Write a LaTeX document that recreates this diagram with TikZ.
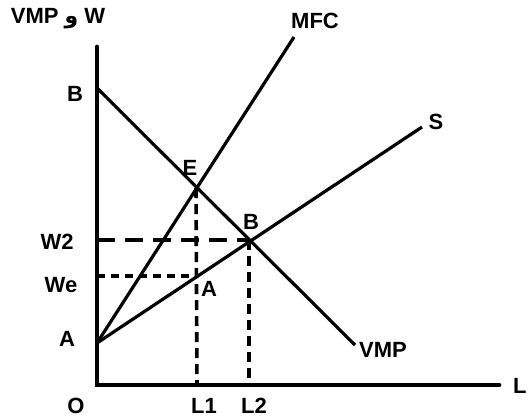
\documentclass[tikz,border=0pt]{standalone}
\usepackage{fontspec}
\setmainfont{Liberation Sans}
\newfontfamily\arabicfont[Script=Arabic]{DejaVu Sans}
\TeXXeTstate=1
\usetikzlibrary{positioning}

\tikzset{
  axisline/.style={line width=2.4pt, line cap=round},
  curve/.style={line width=1.6pt},
  longdash/.style={line width=1.8pt, dash pattern=on 9pt off 5pt},
  shortdash/.style={line width=1.6pt, dash pattern=on 4pt off 3pt},
  droplink/.style={line width=1.8pt, dash pattern=on 5pt off 3pt},
  lbl/.style={font=\fontsize{11}{12}\selectfont\bfseries, inner sep=0pt}
}

\begin{document}
\begin{tikzpicture}[x=0.5pt, y=-0.5pt]
  \useasboundingbox (0,0) rectangle (528,419);

  % points
  \coordinate (O) at (97,385);
  \coordinate (ytop) at (97,47);
  \coordinate (xend) at (499,385);
  \coordinate (Bax) at (97,88);
  \coordinate (Aax) at (97,343);
  \coordinate (vmpend) at (355,345);
  \coordinate (mfcend) at (294,37);
  \coordinate (send) at (422,127);
  \coordinate (E) at (196,188);
  \coordinate (Bpt) at (249,240);
  \coordinate (Apt) at (197,276);
  \coordinate (W2ax) at (97,240);
  \coordinate (Weax) at (97,276);
  \coordinate (L1ax) at (197,385);
  \coordinate (L2ax) at (249,385);

  % axes
  \draw[axisline] (ytop) -- (O) -- (xend);

  % curves
  \draw[curve] (Bax) -- (vmpend);
  \draw[curve] (Aax) -- (mfcend);
  \draw[curve] (Aax) -- (send);

  % dashed guides
  \draw[longdash] (W2ax) -- (Bpt);
  \draw[droplink] (Bpt) -- (L2ax);
  \draw[shortdash] (Weax) -- (Apt);
  \draw[droplink] (E) -- (L1ax);

  % labels
  \node[lbl] (ylab) at (58,19) {VMP {\arabicfont\bfseries\beginR و\endR} W};
  \node[lbl, anchor=east] (xlab) at (527,386) {L};
  \node[lbl] (olab) at (76,406) {O};
  \node[lbl] (l1lab) at (204,406) {L1};
  \node[lbl] (l2lab) at (254,406) {L2};
  \node[lbl] (blab) at (75,94) {B};
  \node[lbl] (w2lab) at (57,242) {W2};
  \node[lbl] (welab) at (61,285) {We};
  \node[lbl] (alab) at (67,339) {A};
  \node[lbl] (elab) at (190,168) {E};
  \node[lbl] (bptlab) at (251,222) {B};
  \node[lbl] (aptlab) at (209,289) {A};
  \node[lbl] (mfclab) at (315,21) {MFC};
  \node[lbl] (slab) at (436,122) {S};
  \node[lbl] (vmplab) at (383,350) {VMP};
\end{tikzpicture}
\end{document}
